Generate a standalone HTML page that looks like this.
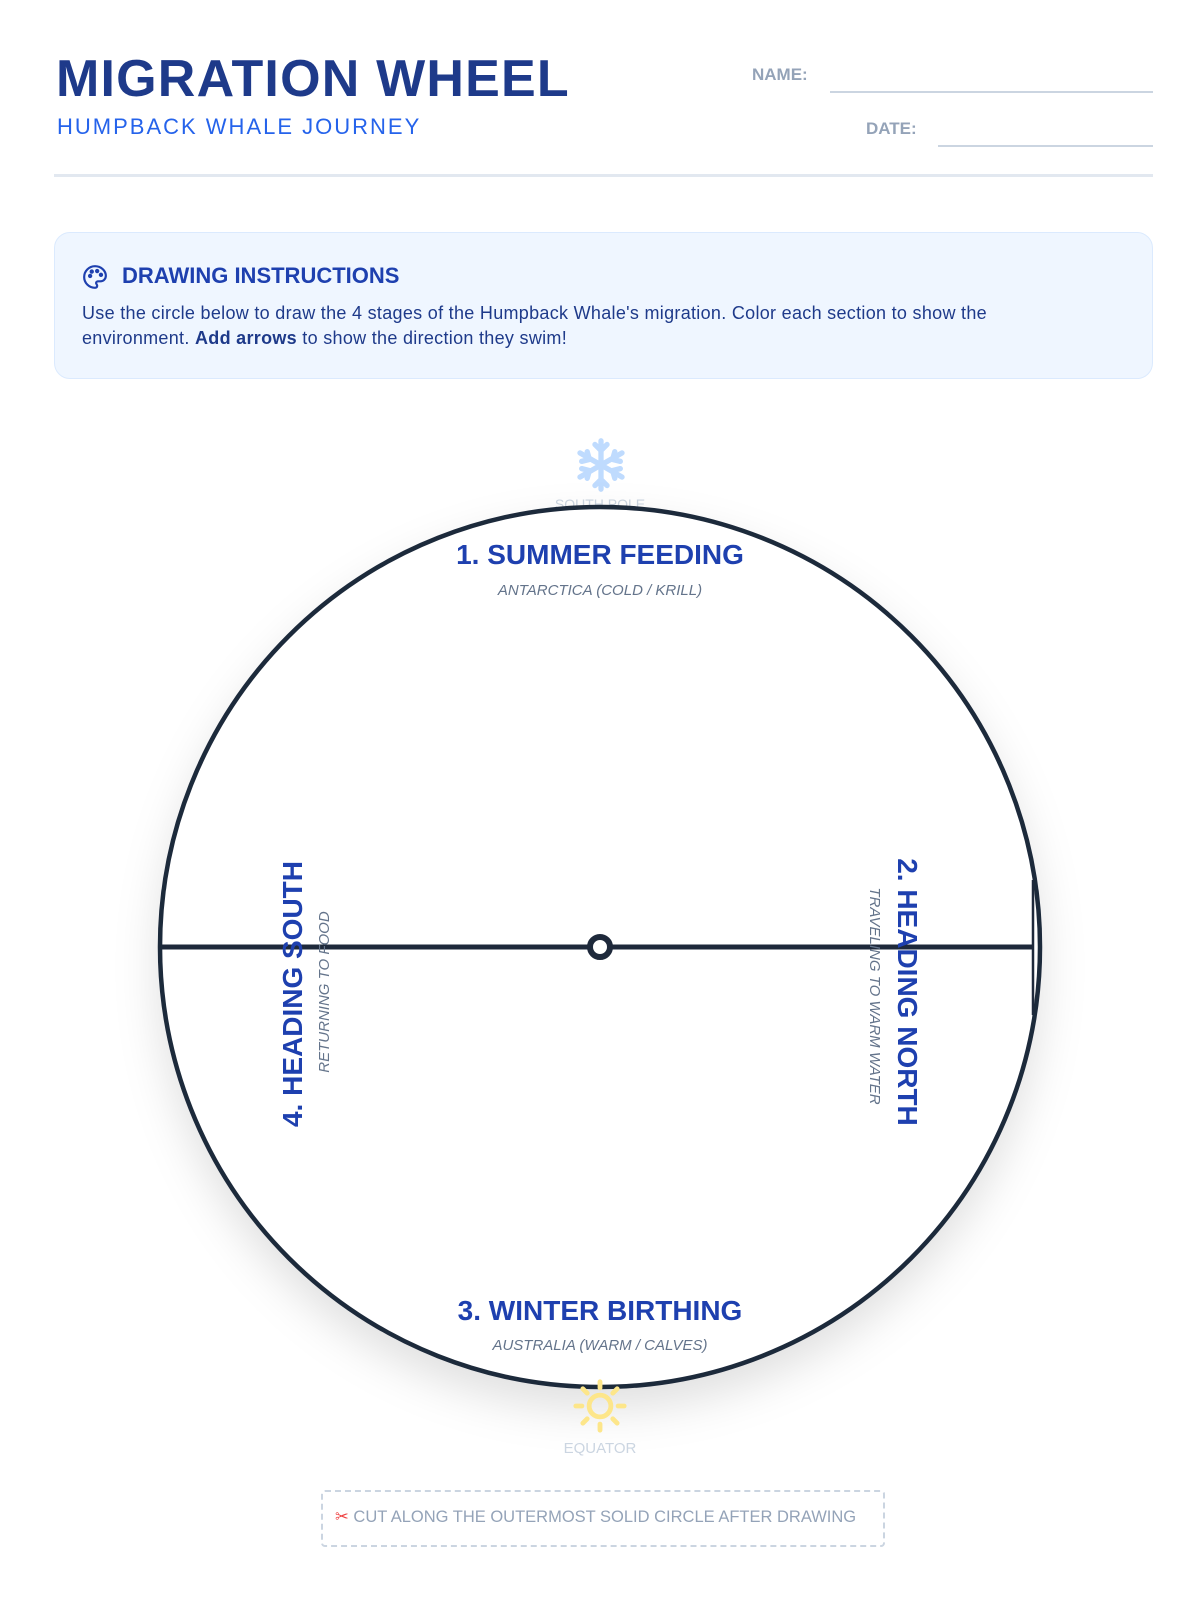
<!DOCTYPE html>
<html><head><meta charset="utf-8"><style>
*{margin:0;padding:0;box-sizing:border-box}
body{width:1200px;height:1600px;background:#fff;font-family:"Liberation Sans",sans-serif;position:relative;overflow:hidden}
.a{position:absolute;white-space:nowrap}
</style></head><body>
<div class="a" style="left:56px;top:49px;font-size:52px;font-weight:bold;color:#1e3a8a;letter-spacing:1.2px">MIGRATION WHEEL</div>
<div class="a" style="left:57px;top:114px;font-size:22px;color:#2563eb;letter-spacing:2px">HUMPBACK WHALE JOURNEY</div>
<div class="a" style="left:752px;top:65px;font-size:17px;color:#94a3b8;font-weight:bold">NAME:</div>
<div class="a" style="left:830px;top:91px;width:323px;height:2px;background:#cbd5e1"></div>
<div class="a" style="left:866px;top:119px;font-size:17px;color:#94a3b8;font-weight:bold">DATE:</div>
<div class="a" style="left:938px;top:145px;width:215px;height:2px;background:#cbd5e1"></div>
<div class="a" style="left:54px;top:174px;width:1099px;height:3px;background:#e2e8f0"></div>

<div class="a" style="left:54px;top:232px;width:1099px;height:147px;background:#eff6ff;border:1.5px solid #dbeafe;border-radius:16px"></div>
<svg class="a" style="left:82px;top:264px" width="26" height="26" viewBox="0 0 24 24" fill="none" stroke="#1e40af" stroke-width="2"><path d="M12 2a10 10 0 0 0 0 20c1.5 0 2-1 2-2s-1-1.5-1-2.5 1-1.5 2-1.5h2a5 5 0 0 0 5-5c0-5-4.5-9-10-9z"/><circle cx="7.5" cy="11" r="1" fill="#1e40af"/><circle cx="9" cy="7" r="1" fill="#1e40af"/><circle cx="14" cy="6.5" r="1" fill="#1e40af"/><circle cx="17.5" cy="10" r="1" fill="#1e40af"/></svg>
<div class="a" style="left:122px;top:263px;font-size:22px;font-weight:bold;color:#1e40af">DRAWING INSTRUCTIONS</div>
<div class="a" style="left:82px;top:301px;font-size:18px;color:#1e3a8a;line-height:25px;white-space:normal;width:960px;letter-spacing:0.3px">Use the circle below to draw the 4 stages of the Humpback Whale's migration. Color each section to show the environment. <b>Add arrows</b> to show the direction they swim!</div>

<svg class="a" style="left:572px;top:436px" width="58" height="58" viewBox="0 0 24 24" fill="none" stroke="#bfdbfe" stroke-width="2.2" stroke-linecap="round"><path d="M12 2v20M3.3 7l17.4 10M3.3 17L20.7 7M9.5 3.5L12 6l2.5-2.5M9.5 20.5L12 18l2.5 2.5M4 10.5l3.2-.8-.9-3.2M20 13.5l-3.2.8.9 3.2M4 13.5l3.2.8-.9 3.2M20 10.5l-3.2-.8.9-3.2"/></svg>
<div class="a" style="left:500px;top:496px;width:200px;text-align:center;font-size:14px;color:#cbd5e1">SOUTH POLE</div>

<svg class="a" style="left:0;top:0" width="1200" height="1600">
<defs><filter id="sh" x="-20%" y="-20%" width="140%" height="150%"><feDropShadow dx="0" dy="20" stdDeviation="22" flood-color="#000" flood-opacity="0.12"/></filter></defs>
<circle cx="600" cy="947" r="440" fill="#fff" stroke="#1e293b" stroke-width="4.5" filter="url(#sh)"/>
<line x1="162" y1="947" x2="1033" y2="947" stroke="#1e293b" stroke-width="5"/>
<line x1="1033" y1="880" x2="1033" y2="1015" stroke="#1e293b" stroke-width="2.5"/>
<circle cx="600" cy="947" r="10" fill="#fff" stroke="#1e293b" stroke-width="6"/>
</svg>

<div class="a" style="left:300px;top:539px;width:600px;text-align:center;font-size:28px;font-weight:bold;color:#1e40af">1. SUMMER FEEDING</div>
<div class="a" style="left:300px;top:582px;width:600px;text-align:center;font-size:15px;font-style:italic;color:#64748b">ANTARCTICA (COLD / KRILL)</div>
<div class="a" style="left:300px;top:1295px;width:600px;text-align:center;font-size:28px;font-weight:bold;color:#1e40af">3. WINTER BIRTHING</div>
<div class="a" style="left:300px;top:1337px;width:600px;text-align:center;font-size:15px;font-style:italic;color:#64748b">AUSTRALIA (WARM / CALVES)</div>

<div class="a" style="left:607px;top:977px;width:600px;text-align:center;font-size:28px;font-weight:bold;color:#1e40af;transform:rotate(90deg);line-height:30px">2. HEADING NORTH</div>
<div class="a" style="left:574px;top:986px;width:600px;text-align:center;font-size:15px;font-style:italic;color:#64748b;transform:rotate(90deg);line-height:20px">TRAVELING TO WARM WATER</div>
<div class="a" style="left:-7px;top:979px;width:600px;text-align:center;font-size:28px;font-weight:bold;color:#1e40af;transform:rotate(-90deg);line-height:30px">4. HEADING SOUTH</div>
<div class="a" style="left:25px;top:982px;width:600px;text-align:center;font-size:15px;font-style:italic;color:#64748b;transform:rotate(-90deg);line-height:20px">RETURNING TO FOOD</div>

<svg class="a" style="left:571px;top:1377px" width="58" height="58" viewBox="0 0 24 24" fill="none" stroke="#fde68a" stroke-width="2" stroke-linecap="round"><circle cx="12" cy="12" r="4.5"/><path d="M12 2v2.5M12 19.5V22M2 12h2.5M19.5 12H22M4.9 4.9l1.8 1.8M17.3 17.3l1.8 1.8M4.9 19.1l1.8-1.8M17.3 6.7l1.8-1.8"/></svg>
<div class="a" style="left:500px;top:1440px;width:200px;text-align:center;font-size:15px;color:#cbd5e1">EQUATOR</div>

<div class="a" style="left:321px;top:1490px;width:564px;height:57px;border:2.5px dashed #cbd5e1;border-radius:4px"></div>
<div class="a" style="left:335px;top:1507px;font-size:16.5px;color:#94a3b8"><span style="color:#ef4444">✂</span> CUT ALONG THE OUTERMOST SOLID CIRCLE AFTER DRAWING</div>
</body></html>
